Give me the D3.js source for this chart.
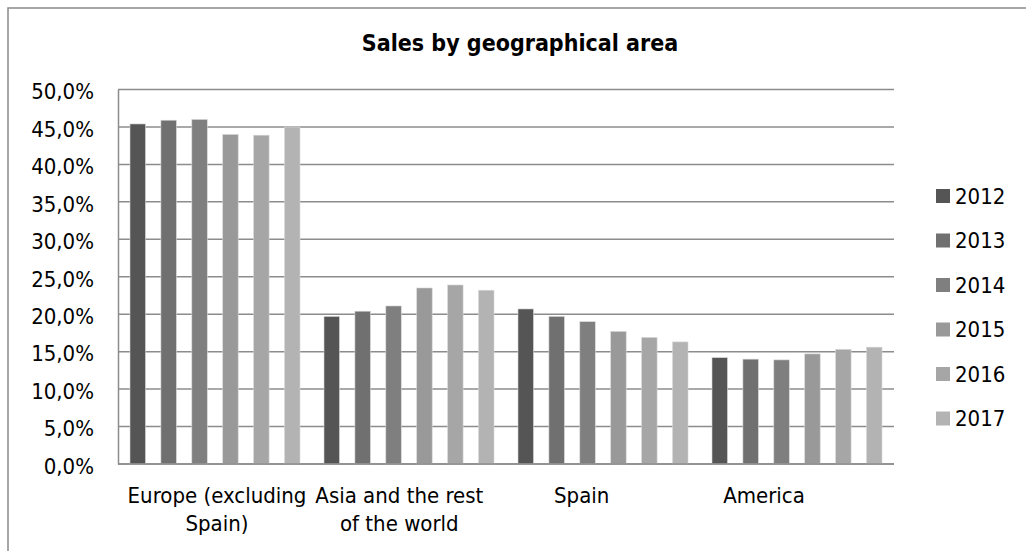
<!DOCTYPE html>
<html>
<head>
<meta charset="utf-8">
<script src="https://cdn.jsdelivr.net/npm/d3@7/dist/d3.min.js"></script>
<style>
  html, body { margin: 0; padding: 0; background: #fff; }
  svg { display: block; }
  text { font-family: "DejaVu Sans Condensed", "DejaVu Sans", sans-serif; font-stretch: condensed; fill: #000; }
</style>
</head>
<body>
<svg id="chart" width="1026" height="551"></svg>
<script>
const title = "Sales by geographical area";
const categories = ["Europe (excluding Spain)", "Asia and the rest of the world", "Spain", "America"];
const categoryLines = [["Europe (excluding", "Spain)"], ["Asia and the rest", "of the world"], ["Spain"], ["America"]];
const years = ["2012", "2013", "2014", "2015", "2016", "2017"];
const v2012 = [45.4, 19.7, 20.7, 14.2];
const v2013 = [45.9, 20.4, 19.7, 14.0];
const v2014 = [46.0, 21.1, 19.0, 13.9];
const v2015 = [44.0, 23.5, 17.7, 14.7];
const v2016 = [43.9, 23.9, 16.9, 15.3];
const v2017 = [45.0, 23.2, 16.3, 15.6];
const yTicks = [0, 5, 10, 15, 20, 25, 30, 35, 40, 45, 50];
const colors = ["#555555", "#707070", "#7f7f7f", "#999999", "#a6a6a6", "#b3b3b3"];

const series = [v2012, v2013, v2014, v2015, v2016, v2017];
const rows = [];
years.forEach((yr, si) => categories.forEach((c, ci) => rows.push({year: yr, cat: c, value: series[si][ci], si})));

const svg = d3.select("#chart");
const plot = {left: 118, right: 894, top: 89.5, bottom: 464};

// outer chart border
svg.append("path")
  .attr("d", `M8,${560} L8,8 L${1030},8`)
  .attr("fill", "none").attr("stroke", "#8a8a8a").attr("stroke-width", 1.5);

const x0 = d3.scaleBand().domain(categories).range([plot.left, plot.right]);
const x1 = d3.scaleBand().domain(years).range([12, 182]).paddingInner(0.5).paddingOuter(0);
const y = d3.scaleLinear().domain([0, 50]).range([plot.bottom, plot.top]);
const xl = d3.scalePoint().domain(categories).range([217, 764]);

// gridlines
svg.append("g").selectAll("line").data(yTicks).join("line")
  .attr("x1", plot.left).attr("x2", plot.right)
  .attr("y1", d => y(d)).attr("y2", d => y(d))
  .attr("stroke", "#8c8c8c").attr("stroke-width", 1.5);

// y axis
const yAxis = d3.axisLeft(y).tickValues(yTicks).tickSize(0).tickPadding(24)
  .tickFormat(d => d3.format(".1f")(d).replace(".", ",") + "%");
const gy = svg.append("g").attr("transform", `translate(${plot.left},0)`).call(yAxis);
gy.select(".domain").attr("stroke", "#8c8c8c").attr("stroke-width", 1.5);
gy.selectAll("text").attr("font-size", 22).attr("dy", "0.42em").attr("font-family", null);

// bars
svg.append("g").selectAll("rect").data(rows).join("rect")
  .attr("x", d => x0(d.cat) + x1(d.year))
  .attr("width", x1.bandwidth())
  .attr("y", d => y(d.value))
  .attr("height", d => y(0) - y(d.value))
  .attr("fill", d => colors[d.si])
  .attr("stroke", "#d8d8d8").attr("stroke-width", 0.6);

// x axis line
svg.append("line").attr("x1", plot.left).attr("x2", plot.right)
  .attr("y1", y(0)).attr("y2", y(0)).attr("stroke", "#8c8c8c").attr("stroke-width", 1.5);

// category labels
const lab = svg.append("g").selectAll("text").data(categories).join("text")
  .attr("text-anchor", "middle").attr("font-size", 22)
  .attr("x", d => xl(d)).attr("y", 503);
lab.selectAll("tspan").data((d, i) => categoryLines[i]).join("tspan")
  .attr("x", function() { return d3.select(this.parentNode).attr("x"); })
  .attr("dy", (d, i) => i === 0 ? 0 : 28)
  .text(d => d);

// title
svg.append("text").attr("x", 520).attr("y", 51).attr("text-anchor", "middle")
  .attr("font-size", 23).attr("font-weight", "bold").text(title);

// legend
const lg = svg.append("g").selectAll("g").data(years).join("g")
  .attr("transform", (d, i) => `translate(936,${196 + i * 44.5})`);
lg.append("rect").attr("x", 0).attr("y", -7).attr("width", 14).attr("height", 14)
  .attr("fill", (d, i) => colors[i]);
lg.append("text").attr("x", 19).attr("y", 0).attr("dy", "0.36em").attr("font-size", 22).text(d => d);
</script>
</body>
</html>
